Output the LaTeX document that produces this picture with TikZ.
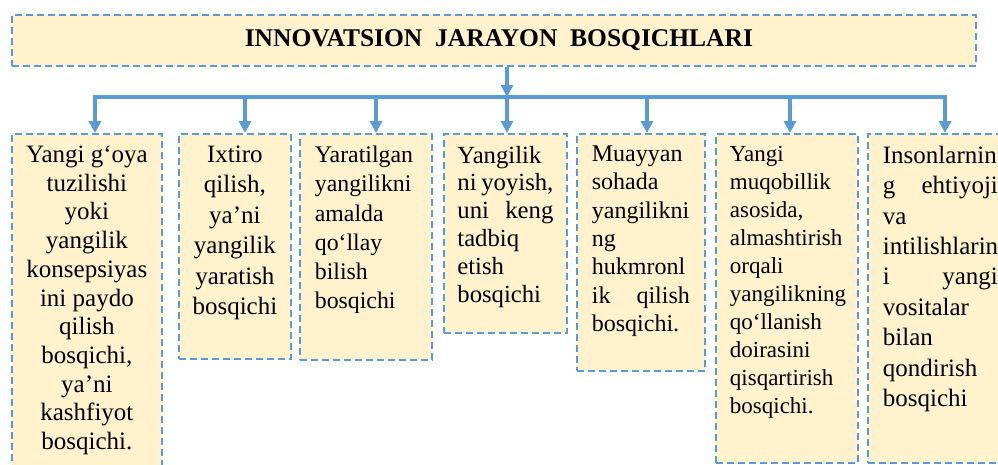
\documentclass[tikz,border=0pt]{standalone}
\usepackage{fontspec}
\setmainfont{Liberation Serif}
\usetikzlibrary{arrows.meta}
\definecolor{LinkClr}{RGB}{91,155,213}
\definecolor{BoxClr}{RGB}{255,242,204}
% text of a stage: {{size}{skip}}{height}{width}{lines}
\newcommand{\matn}[4]{\parbox[t][#2][t]{#3}{\fontsize#1\selectfont\hyphenpenalty=10000 #4}}

\begin{document}
\begin{tikzpicture}[x=1pt,y=-1pt,
  stagebox/.style={draw=LinkClr,fill=BoxClr,line width=1.8pt,dash pattern=on 7pt off 4pt,
    anchor=north west,inner ysep=12pt},
  link/.style={LinkClr,line width=3.2pt},
  arr/.style={link,-{Triangle[length=12pt,width=12pt]}}]
\useasboundingbox (0,0) rectangle (998,464);
\clip (0,0) rectangle (998,464);

\node[stagebox,minimum width=964pt,minimum height=51pt,inner sep=0pt] (title) at (11,14)
  {\fontsize{25.5pt}{30pt}\selectfont\bfseries\hspace*{10pt}INNOVATSION\ \ JARAYON\ \ BOSQICHLARI};

\node[stagebox,inner xsep=10pt] (s1) at (11,133) {\matn{{25pt}{28.7pt}}{313pt}{130pt}{\centering
  Yangi g‘oya\\ tuzilishi\\ yoki\\ yangilik\\ konsepsiyas\\ ini paydo\\ qilish\\
  bosqichi,\\ ya’ni\\ kashfiyot\\ bosqichi.}};
\node[stagebox,inner xsep=8pt] (s2) at (178,133) {\matn{{25pt}{30.5pt}}{201pt}{96pt}{\centering
  Ixtiro\\ qilish,\\ ya’ni\\ yangilik\\ yaratish\\ bosqichi}};
\node[stagebox,inner xsep=15pt] (s3) at (299,133) {\matn{{23.8pt}{29.3pt}}{202pt}{102pt}{%
  Yaratilgan\\ yangilikni\\ amalda\\ qo‘llay\\ bilish\\ bosqichi}};
\node[stagebox,inner xsep=13.5pt] (s4) at (443,133) {\matn{{24.7pt}{27.8pt}}{175pt}{96pt}{%
  Yangilik\\ ni yoyish,\\ uni\hfill keng\\ tadbiq\\ etish\\ bosqichi}};
\node[stagebox,inner xsep=15pt] (s5) at (576,133) {\matn{{24pt}{28.3pt}}{213pt}{98pt}{%
  Muayyan\\ sohada\\ yangilikni\\ ng\\ hukmronl\\ ik\hfill qilish\\ bosqichi.}};
\node[stagebox,inner xsep=14pt] (s6) at (715,133) {\matn{{23pt}{28pt}}{305pt}{114pt}{%
  Yangi\\ muqobillik\\ asosida,\\ almashtirish\\ orqali\\ yangilikning\\ qo‘llanish\\
  doirasini\\ qisqartirish\\ bosqichi.}};
\node[stagebox,inner xsep=15pt] (s7) at (867,133) {\matn{{25pt}{30.4pt}}{305pt}{115pt}{%
  Insonlarnin\\ g\hfill ehtiyoji\\ va\\ intilishlarin\\ i\hfill yangi\\ vositalar\\
  bilan\\ qondirish\\ bosqichi}};

% connectors
\coordinate (hub) at (507,97);
\draw[arr] (title.south -| hub) -- (hub);
\foreach \i/\x in {1/95,2/245,3/376,4/507,5/647,6/790,7/945}
  \coordinate (a\i) at (\x,97);
\draw[link,line cap=rect] (a1) -- (a7);
\foreach \i in {1,...,7}
  \draw[arr] (a\i) -- (s\i.north -| a\i);

\end{tikzpicture}
\end{document}
